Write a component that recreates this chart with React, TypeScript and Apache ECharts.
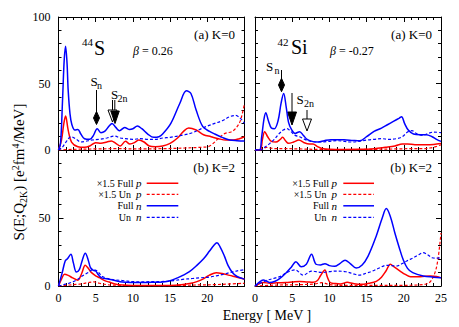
import React, { useEffect, useRef } from "react";
import * as echarts from "echarts";

type Pts = [number, number][];

// ---------- 44S, K=0 ----------
const s44K0FullP: Pts = [[0,0],[0.4,7.5],[0.72,20],[0.95,25.5],[1.3,15],[1.75,6],[2.6,2.5],[3.5,2],[4.2,3],[5.0,5.5],[5.7,5],[6.5,6],[7.1,6.8],[7.7,5],[8.3,3],[9.0,6.5],[9.6,4.5],[10.2,5.5],[10.8,7.5],[11.5,6],[12.2,3],[13,2.5],[14,3],[15,5],[16,9],[16.8,14],[17.5,16.5],[18.5,15],[19.5,11.5],[20.5,10],[21.5,8.5],[22.5,7.5],[23.5,7.5],[24.3,8.5],[25,10]];
const s44K0UnP: Pts = [[0,0],[2,0.5],[5,0.8],[8,1],[11,0.8],[14,1],[17,1.5],[19,2],[20.1,2.5],[20.8,5],[21.5,8.8],[22.4,12.5],[23.3,13.8],[24,17.5],[24.5,23],[25,35]];
const s44K0FullN: Pts = [[0,0],[0.27,5],[0.54,37],[0.76,67],[0.95,78],[1.15,65],[1.3,45],[1.55,27],[1.8,19],[2.2,15],[2.6,15.5],[3.0,12],[3.5,8.5],[4.2,8],[4.7,11],[5.2,16],[5.7,13],[6.2,14],[6.8,18],[7.2,20],[7.7,17],[8.2,14.5],[8.9,17],[9.5,15.5],[10.0,16],[10.6,18],[11.2,16],[12.0,12],[12.8,9.5],[13.5,10],[14.0,12],[15.1,20],[16.3,35],[17.2,44.5],[17.8,42.5],[18.5,30],[19.4,17.5],[20.3,14],[21.0,12],[22.0,9.5],[23.0,7.5],[24.0,7],[25,6.8]];
const s44K0UnN: Pts = [[0,0],[0.5,2],[1.0,6],[1.7,10],[2.4,8],[3.0,6],[3.6,6.5],[4.5,7.5],[5.5,8],[6.5,9],[7.5,10.5],[8.3,9],[9.0,8.5],[10,8],[11,8.5],[12,8],[13,8],[14,9],[15,9.5],[16,10.5],[17,11.5],[18,13],[19,15.5],[20,18],[21,20],[22,22],[23,25],[23.8,26],[24.4,24],[25,20]];

// ---------- 42Si, K=0 ----------
const si42K0FullP: Pts = [[0,0],[0.7,0],[1.0,8],[1.3,13.8],[1.7,10],[2.2,6.5],[2.8,6],[3.4,8],[3.7,9.5],[4.1,7],[4.5,5],[5.2,6],[5.9,7.5],[6.6,5.5],[7.3,4.5],[7.8,4.5],[8.4,2.5],[9,1.2],[10,0.6],[12,0.4],[14,0.5],[16,1],[17.5,2],[18.8,3],[19.8,4.5],[20.5,4.5],[21.5,4],[23,4],[24,4.2],[25,4.8]];
const si42K0UnP: Pts = [[0,0],[1,0.5],[1.5,2],[2,1.5],[3,1],[4,1],[6,0.8],[8,0.5],[12,0.3],[16,0.5],[19,0.8],[21,1],[22.5,1],[23.5,1.5],[24.3,2.5],[25,4]];
const si42K0FullN: Pts = [[0,0],[0.6,0],[0.9,10],[1.2,23],[1.45,28],[1.8,22],[2.2,16.5],[2.6,16],[3.1,22],[3.5,35],[3.85,42.5],[4.2,32],[4.5,21],[4.9,15.5],[5.4,12.5],[6.0,13.8],[6.5,11],[7.0,8],[7.8,6.3],[8.5,6],[9.3,7],[10.2,7.8],[11.2,7.8],[12.3,7.5],[13.2,7.2],[14.1,7],[15.0,10],[16.0,14],[17.0,16.5],[17.8,19],[18.6,21.5],[19.4,24],[19.7,25],[20.1,20],[20.6,15],[21.3,12],[22.2,11.5],[23.0,11.5],[23.8,10],[24.4,8],[25,6.5]];
const si42K0UnN: Pts = [[0,0],[0.8,0],[1.3,2],[2.0,5],[2.6,8],[3.2,12],[3.8,15],[4.3,16],[4.8,14],[5.4,11],[6.0,10],[6.7,8],[7.5,6.5],[8.5,6],[10,6.5],[11,7],[12,6.5],[13,6],[14,6.5],[15,7.5],[16,8],[17,8.5],[18,8],[19,8.5],[19.8,10],[20.5,13.5],[21.1,14.5],[21.8,12],[22.5,11],[23.3,12.5],[24,13.5],[25,13]];

// ---------- 44S, K=2 ----------
const s44K2FullP: Pts = [[0,0],[0.4,5],[0.8,8.6],[1.3,7.8],[1.9,6],[2.6,4.3],[3.1,9],[3.6,15.2],[4.0,13],[4.4,10],[5.0,7.5],[5.5,6.1],[6.2,4],[6.8,2.9],[7.6,1.5],[8.6,0.7],[10,0.4],[13,0.3],[15,0.4],[16.5,1],[17.8,2],[18.6,3.2],[19.4,5],[20.3,8],[21.2,9.8],[22,9.2],[23,7.8],[24,6.5],[25,5]];
const s44K2UnP: Pts = [[0,0],[1,0.5],[2,1],[3,1.5],[4,2.5],[4.8,3],[5.5,2],[6.5,1],[8,0.5],[10,0.3],[14,0.3],[17,0.5],[19,0.8],[21,1],[23,1.5],[25,2]];
const s44K2FullN: Pts = [[0,0],[0.5,9.8],[0.9,18.4],[1.2,20],[1.66,23.3],[2.0,17],[2.4,10.3],[2.8,12],[3.2,19],[3.6,24],[4.0,19],[4.3,13.5],[4.7,11.5],[5.0,11],[5.4,8],[5.8,6],[6.8,5],[7.6,4],[8.6,3],[10,2.6],[11,2.5],[12.5,2.8],[14,3],[15,3.8],[16,6],[16.7,7.8],[17.6,10.5],[18.5,14.7],[19.5,20],[20.3,25.7],[20.9,30],[21.3,31.8],[21.7,29],[22.3,22],[22.8,15],[23.4,9.8],[24,7],[24.8,5.4],[25,5]];
const s44K2UnN: Pts = [[0,0],[0.7,1],[1.4,2],[2.3,4],[3.2,7.4],[4,10],[4.6,12],[5.2,11],[5.9,7],[7,5],[8.6,4],[10,3.2],[11,3],[12.5,3.2],[14.5,3.4],[15.5,4],[16.7,4.9],[18,5.5],[19,6],[20.3,6.6],[21.2,7.5],[22.1,8.5],[23,9.8],[23.9,11],[25,12]];

// ---------- 42Si, K=2 ----------
const si42K2FullP: Pts = [[0,0],[0.5,1.5],[1.1,2.6],[2,2],[3,2.3],[4.2,2.6],[5,3],[6,3.4],[7,3],[7.8,2.7],[8.4,4],[8.8,7.5],[9.4,11.8],[9.7,7],[10.1,2.6],[10.8,1.8],[11.5,1.5],[12.4,2.7],[13.2,1.8],[14.2,1.2],[15.3,2],[16.3,3.4],[17.0,6.5],[17.6,11],[18.2,16],[18.7,14],[19.5,11],[20.2,8.5],[20.9,6.8],[22.2,6.8],[23.6,7.4],[24.4,7],[25,6]];
const si42K2UnP: Pts = [[0,0],[2,0.5],[4,0.8],[6,1],[8,1.5],[9,2.5],[10,1],[12,0.5],[16,0.5],[20,0.5],[22,0.8],[23,1.5],[23.6,3.4],[24.2,10],[24.6,20],[25,39]];
const si42K2FullN: Pts = [[0,0],[0.5,2.5],[1.1,4.4],[1.6,3.5],[2.0,2.5],[2.7,3.5],[3.3,5.4],[4.2,9.8],[4.9,14],[5.5,17.9],[6.2,14.2],[6.9,16],[7.6,23.3],[8.2,16],[8.8,15.5],[9.4,16.4],[10.0,15],[10.7,14.5],[11.4,16.5],[12.1,19],[12.8,16.5],[13.6,13.2],[14.4,15.5],[15.2,22],[16.3,36.8],[17.1,50],[17.65,56.9],[18.2,51],[18.8,39],[19.4,28],[19.9,19.6],[20.5,13],[21.2,9.8],[22.6,7.4],[24,6.5],[25,6]];
const si42K2UnN: Pts = [[0,0],[0.7,2],[1.5,4],[2.8,6],[3.6,7.5],[4.2,9.8],[5.4,11.8],[6.5,8],[7.6,11],[8.9,10],[10.0,10.5],[10.9,11],[12.2,10.5],[13.2,9],[14,8],[15,9.5],[15.8,11],[16.8,13.5],[17.6,15.2],[18.4,15],[19,14.7],[19.8,16.5],[20.4,18.4],[21.3,20.8],[22,23],[22.6,24.5],[23.2,23],[23.8,20.8],[24.4,20.5],[25,20.8]];

const panels: Pts[][] = [
  [s44K0FullP, s44K0UnP, s44K0FullN, s44K0UnN],
  [si42K0FullP, si42K0UnP, si42K0FullN, si42K0UnN],
  [s44K2FullP, s44K2UnP, s44K2FullN, s44K2UnN],
  [si42K2FullP, si42K2UnP, si42K2FullN, si42K2UnN],
];
const seriesNames = ["×1.5 Full p", "×1.5 Un p", "Full n", "Un n"];
const legendLabels = ["×1.5 Full {i|p}", "×1.5 Un  {i|p}", "Full {i|n}", "Un  {i|n}"];
const panelTags = ["(a) K=0", "(a) K=0", "(b) K=2", "(b) K=2"];

const RED = "#ff0000";
const BLUE = "#0000ff";
const FONT = "Liberation Serif";
const colors = [RED, RED, BLUE, BLUE];
const dashed = [false, true, false, true];

const grids = [
  { left: 58.5, top: 17, width: 186, height: 133 },
  { left: 255, top: 17, width: 186, height: 133 },
  { left: 58.5, top: 150, width: 186, height: 136 },
  { left: 255, top: 150, width: 186, height: 136 },
];

function txt(x: number, y: number, text: string, size: number, align = "left", extra: any = {}) {
  return {
    type: "text",
    x,
    y,
    silent: true,
    style: {
      text,
      fontSize: size,
      fontFamily: FONT,
      fontStyle: extra.italic ? "italic" : "normal",
      fill: "#000",
      lineHeight: extra.lineHeight ?? size,
      align,
      verticalAlign: "middle",
      textAlign: align,
      textVerticalAlign: "middle",
      rich: extra.rich,
    },
  };
}
const ln = (x1: number, y1: number, x2: number, y2: number, color = "#000", w = 1, dash: any = null) => ({
  type: "line",
  silent: true,
  shape: { x1, y1, x2, y2 },
  style: { stroke: color, lineWidth: w, lineDash: dash },
});
const poly = (points: number[][], fill: string) => ({
  type: "polygon",
  silent: true,
  shape: { points },
  style: { fill, stroke: "#000", lineWidth: 1 },
});

export default function App() {
  const ref = useRef<HTMLDivElement>(null);
  useEffect(() => {
    const chart = echarts.init(ref.current!, undefined, { renderer: "svg" });
    const baseAxis: any = {
      type: "value",
      min: 0,
      axisLine: { show: true, onZero: false, lineStyle: { color: "#000", width: 1 } },
      axisTick: { show: true, inside: true, length: 5, lineStyle: { color: "#000", width: 1 } },
      minorTick: { show: true, splitNumber: 5, length: 3, lineStyle: { color: "#000", width: 1 } },
      splitLine: { show: false },
      minorSplitLine: { show: false },
    };
    const labelFont = { fontSize: 12, fontFamily: FONT, color: "#000" };
    const xAxis = grids.flatMap((_, i) => [
      {
        ...baseAxis,
        gridIndex: i,
        position: "bottom",
        max: 25,
        interval: 5,
        axisLabel: { show: i >= 2, ...labelFont, margin: 6, showMaxLabel: i === 3 },
      },
      { ...baseAxis, gridIndex: i, position: "top", max: 25, interval: 5, axisLabel: { show: false } },
    ]);
    const yAxis = grids.flatMap((_, i) => [
      {
        ...baseAxis,
        gridIndex: i,
        position: "left",
        max: 100,
        interval: 50,
        axisLabel: { show: i === 0 || i === 2, ...labelFont, margin: 8, showMaxLabel: i === 0 },
      },
      { ...baseAxis, gridIndex: i, position: "right", max: 100, interval: 50, axisLabel: { show: false } },
    ]);
    const series: any[] = [];
    panels.forEach((curves, i) => {
      curves.forEach((data, k) => {
        series.push({
          type: "line",
          name: seriesNames[k] + " " + i,
          xAxisIndex: 2 * i,
          yAxisIndex: 2 * i,
          data,
          smooth: 0.35,
          showSymbol: false,
          symbol: "none",
          silent: true,
          lineStyle: {
            color: colors[k],
            width: dashed[k] ? 1.2 : 1.5,
            type: dashed[k] ? [3, 2] : "solid",
          },
        });
      });
    });

    const subRich = {
      sub: { fontSize: 10, fontFamily: FONT, verticalAlign: "bottom", lineHeight: 10 },
      sup: { fontSize: 10, fontFamily: FONT, verticalAlign: "top", lineHeight: 10 },
    };
    const italicRich = (s: number) => ({ i: { fontSize: s, fontFamily: FONT, fontStyle: "italic", lineHeight: s } });
    const g: any[] = [];
    // nucleus labels
    g.push(txt(82, 41.5, "44", 11));
    g.push(txt(94, 47.5, "S", 20));
    g.push(txt(277.5, 41.5, "42", 11));
    g.push(txt(291, 47, "Si", 20));
    // beta
    g.push(txt(133, 51, "{i|β} = 0.26", 12, "left", { rich: italicRich(12) }));
    g.push(txt(330, 51, "{i|β} = -0.27", 12, "left", { rich: italicRich(12) }));
    // panel tags
    g.push(txt(235, 34, panelTags[0], 13, "right"));
    g.push(txt(432, 34, panelTags[1], 13, "right"));
    g.push(txt(235, 167.5, panelTags[2], 13, "right"));
    g.push(txt(432, 167.5, panelTags[3], 13, "right"));
    // S_n, S_2n labels
    g.push(txt(90.5, 81, "S", 13));
    g.push(txt(97, 85.5, "n", 10));
    g.push(txt(111, 94.3, "S", 13));
    g.push(txt(117.5, 98, "2n", 10));
    g.push(txt(266, 66.7, "S", 13));
    g.push(txt(274.5, 70.5, "n", 10));
    g.push(txt(296.5, 99.3, "S", 13));
    g.push(txt(304, 103, "2n", 10));
    // arrows left panel
    g.push(ln(96.5, 90, 96.5, 114));
    g.push(poly([[96.5, 111.5], [99.5, 118], [96.5, 124.5], [93.5, 118]], "#000"));
    g.push(ln(112.5, 100, 112.5, 111));
    g.push(ln(114.8, 100, 114.8, 111));
    g.push(poly([[108, 110], [117, 110], [112.5, 122]], "#fff"));
    g.push(poly([[110.8, 111], [119.3, 111], [115, 123.5]], "#000"));
    // arrows right panel
    g.push(ln(281.5, 70, 281.5, 80));
    g.push(poly([[281.5, 78.3], [284.5, 85], [281.5, 91.7], [278.5, 85]], "#000"));
    g.push(ln(292, 93, 292, 112));
    g.push(poly([[287.5, 112], [296.5, 112], [292, 125]], "#000"));
    g.push(ln(307, 110, 307, 119));
    g.push(poly([[302.5, 119], [311.5, 119], [307, 131]], "#fff"));
    // legends
    const legY = [183.3, 194.3, 205.8, 217.3];
    [
      { tx: 141.5, l1: 146.7, l2: 178.3 },
      { tx: 337, l1: 343.3, l2: 374 },
    ].forEach((L) => {
      legendLabels.forEach((lab, k) => {
        g.push(txt(L.tx, legY[k], lab, 10, "right", { rich: italicRich(11), lineHeight: 10 }));
        g.push(ln(L.l1, legY[k], L.l2, legY[k], colors[k], dashed[k] ? 1.2 : 1.5, dashed[k] ? [3, 2] : null));
      });
    });
    // axis titles
    g.push(txt(267, 315, "Energy [ MeV ]", 14, "center"));
    g.push({
      type: "text",
      x: 19,
      y: 172,
      rotation: Math.PI / 2,
      silent: true,
      style: {
        text: "S(E;Q{sub|2K}) [e{sup|2}fm{sup|4}/MeV]",
        fontSize: 15,
        fontFamily: FONT,
        fill: "#000",
        lineHeight: 18,
        align: "center",
        verticalAlign: "middle",
        textAlign: "center",
        textVerticalAlign: "middle",
        rich: subRich,
      },
    });

    chart.setOption({
      animation: false,
      backgroundColor: "#fff",
      grid: grids,
      xAxis,
      yAxis,
      series,
      graphic: g,
    });
    return () => chart.dispose();
  }, []);
  return <div ref={ref} style={{ position: "fixed", left: 0, top: 0, width: 459, height: 327 }} />;
}
